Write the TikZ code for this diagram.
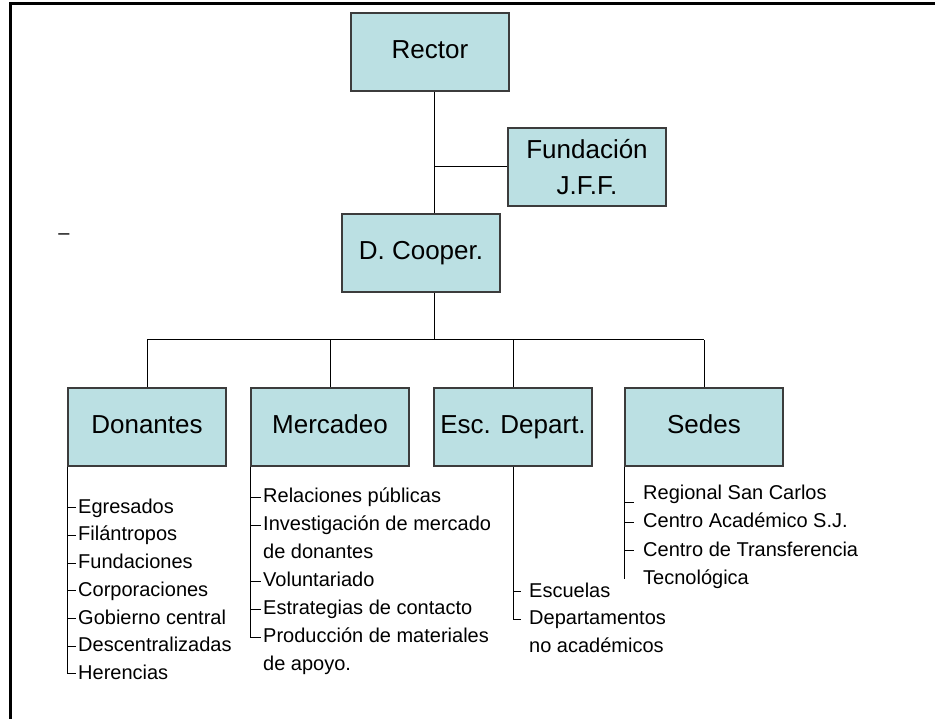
\documentclass[tikz,border=0pt]{standalone}
\usepackage{fontspec}
\setmainfont{Liberation Sans}
\usetikzlibrary{positioning, calc}

\definecolor{boxfill}{RGB}{187,224,227}
\definecolor{boxline}{RGB}{60,60,60}

\tikzset{
  unit/.style={draw=boxline, fill=boxfill, line width=1.5pt, minimum width=158pt,
    minimum height=78pt, align=center, font=\fontsize{26}{36}\selectfont},
  oneline/.style={unit, text height=19pt, text depth=5pt},
  listitem/.style={anchor=west, inner sep=0pt, text height=15pt, text depth=4pt,
    font=\fontsize{20}{24}\selectfont},
  link/.style={line width=1pt, black},
}

\begin{document}
\begin{tikzpicture}[x=1pt, y=-1pt]
  \useasboundingbox (0,0) rectangle (935,719);
  % frame
  \draw[line width=3pt] (10,730) -- (10,4) -- (945,4);

  % top of the chart
  \node[oneline] (rector) at (430,52) {Rector};
  \node[unit] (fund) at (587,167) {Fundación\\J.F.F.};
  \node[oneline] (coop) at (421,253) {D. Cooper.};
  \coordinate (spine) at (434,340);

  % second level
  \node[oneline] (don) at (147,427) {Donantes};
  \node[oneline] (mer) at (330,427) {Mercadeo};
  \node[oneline] (esc) at (513,427) {Esc. Depart.};
  \node[oneline] (sed) at (704,427) {Sedes};

  \node[listitem, anchor=base] (dash) at (64,240) {–};

  \draw[link] (rector.south -| spine) -- (coop.north -| spine);
  \draw[link] (fund.west) -- (fund.west -| spine);
  \draw[link] (coop.south -| spine) -- (spine);
  \draw[link] (don.north |- spine) -- (sed.north |- spine);
  \foreach \n in {don,mer,esc,sed}
    \draw[link] (\n.north) -- (\n.north |- spine);

  % Donantes
  \foreach \t [count=\i] in {Egresados, Filántropos, Fundaciones, Corporaciones,
      Gobierno central, Descentralizadas, Herencias}
    \node[listitem] (don\i) at (78, 480+27.7*\i) {\t};
  \draw[link, shorten >=2pt] (don.south west) -- (don.south west |- don7.west) -- (don7.west);
  \foreach \i in {1,...,6}
    \draw[link, shorten >=2pt] (don.south west |- don\i.west) -- (don\i.west);

  % Mercadeo
  \foreach \t [count=\i] in {Relaciones públicas, Investigación de mercado, de donantes,
      Voluntariado, Estrategias de contacto, Producción de materiales, de apoyo.}
    \node[listitem] (mer\i) at (263, 469+28*\i) {\t};
  \draw[link, shorten >=2pt] (mer.south west) -- (mer.south west |- mer6.west) -- (mer6.west);
  \foreach \i in {1,2,4,5}
    \draw[link, shorten >=2pt] (mer.south west |- mer\i.west) -- (mer\i.west);

  % Esc. Depart.
  \foreach \t [count=\i] in {Escuelas, Departamentos, no académicos}
    \node[listitem] (esc\i) at (529, 564+27.5*\i) {\t};
  \draw[link, shorten >=8pt] (esc.south) -- (esc.south |- esc2.west) -- (esc2.west);
  \draw[link, shorten >=8pt] (esc.south |- esc1.west) -- (esc1.west);

  % Sedes
  \foreach \t [count=\i] in {Regional San Carlos, Centro Académico S.J.,
      Centro de Transferencia, Tecnológica}
    \node[listitem] (sed\i) at (643, 465+28.6*\i) {\t};
  \draw[link] (sed.south west) -- (sed.south west |- sed4.west);
  \draw[link, shorten >=9pt] ([yshift=-9pt]sed.south west |- sed1.west) -- ([yshift=-9pt]sed1.west);
  \foreach \i in {2,3}
    \draw[link, shorten >=9pt] (sed.south west |- sed\i.west) -- (sed\i.west);
\end{tikzpicture}
\end{document}
